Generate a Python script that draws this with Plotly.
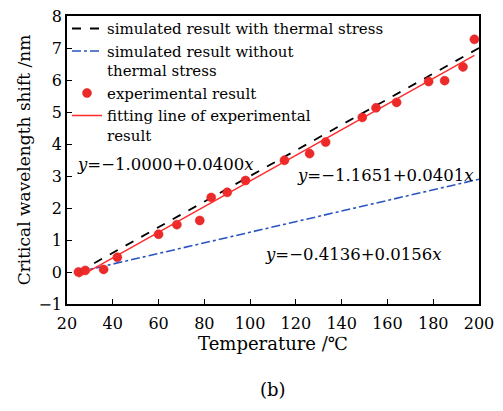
import plotly.graph_objects as go

# Experimental data
exp_T = [25, 28, 36, 42, 60, 68, 78, 83, 90, 98, 115, 126, 133, 149, 155, 164, 178, 185, 193, 198]
exp_shift = [0.0, 0.05, 0.08, 0.46, 1.18, 1.48, 1.61, 2.33, 2.49, 2.86, 3.49, 3.70, 4.06, 4.83, 5.13, 5.30, 5.95, 5.98, 6.41, 7.27]

# Simulated lines (end points)
sim_T = [25, 200]
sim_with_stress = [0.0, 7.0]
sim_without_stress = [0.0, 2.9]

# Fitting line (end points)
fit_T = [25, 198]
fit_shift = [-0.16, 6.77]

FONT = "DejaVu Serif"

fig = go.Figure()
fig.add_trace(go.Scatter(x=sim_T, y=sim_with_stress, mode="lines",
                         line=dict(color="black", dash="dash", width=1.8),
                         name="simulated result with thermal stress"))
fig.add_trace(go.Scatter(x=sim_T, y=sim_without_stress, mode="lines",
                         line=dict(color="#2a55c0", dash="dashdot", width=1.6),
                         name="simulated result without<br>thermal stress"))
fig.add_trace(go.Scatter(x=exp_T, y=exp_shift, mode="markers",
                         marker=dict(color="#ec2a2a", size=9, line=dict(color="#d81818", width=0.5)),
                         name="experimental result"))
fig.add_trace(go.Scatter(x=fit_T, y=fit_shift, mode="lines",
                         line=dict(color="#ff2a2a", width=1.4),
                         name="fitting line of experimental<br>result"))

ann_font = dict(family=FONT, size=16.5, color="black")
fig.add_annotation(x=63, y=3.35, text="<i>y</i>=−1.0000+0.0400<i>x</i>", showarrow=False, font=ann_font)
fig.add_annotation(x=159, y=3.03, text="<i>y</i>=−1.1651+0.0401<i>x</i>", showarrow=False, font=ann_font)
fig.add_annotation(x=145, y=0.56, text="<i>y</i>=−0.4136+0.0156<i>x</i>", showarrow=False, font=ann_font)
fig.add_annotation(x=0.5, y=-0.298, xref="paper", yref="paper", yanchor="middle",
                   text="(b)", showarrow=False, font=dict(family=FONT, size=18, color="black"))

axis_common = dict(showgrid=False, zeroline=False, showline=True, linecolor="black", linewidth=1.5,
                   mirror=True, ticks="inside", ticklen=5, tickwidth=1.2, tickcolor="black",
                   automargin=False, ticklabeloverflow="allow",
                   tickfont=dict(family=FONT, size=16, color="black"))
fig.update_xaxes(range=[20, 200], dtick=20, tick0=20, ticklabelstandoff=4,
                 title=dict(text="Temperature /℃", font=dict(family=FONT, size=18, color="black"), standoff=4),
                 **axis_common)
fig.update_yaxes(range=[-1, 8], dtick=1, tick0=0,
                 title=dict(text="Critical wavelength shift /nm", font=dict(family=FONT, size=17, color="black"), standoff=4),
                 **axis_common)

# page body has an 8px default margin, so the figure is sized/offset to compensate
fig.update_layout(
    width=495, height=395,
    margin=dict(l=59, r=24, t=4, b=99),
    plot_bgcolor="white", paper_bgcolor="white",
    showlegend=True,
    legend=dict(x=0.0, y=1.013, xanchor="left", yanchor="top", bgcolor="rgba(0,0,0,0)",
                font=dict(family=FONT, size=15, color="black"), valign="top",
                tracegroupgap=0, itemwidth=30),
)

fig.write_html("out.html")
